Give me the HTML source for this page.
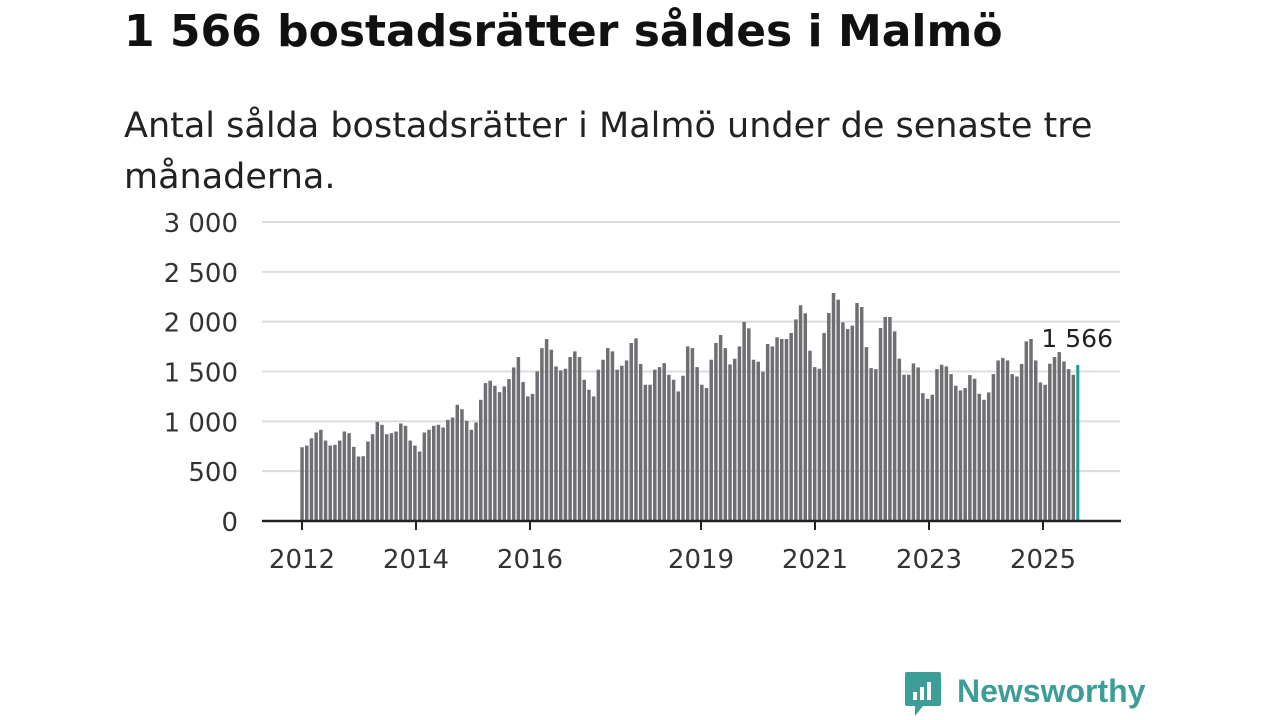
<!DOCTYPE html>
<html><head><meta charset="utf-8"><style>
body{margin:0;width:1280px;height:720px;background:#fff;font-family:"DejaVu Sans","Liberation Sans",sans-serif;overflow:hidden;position:relative}
h1{position:absolute;left:124px;top:6px;margin:0;font-size:44px;font-weight:bold;color:#111;white-space:nowrap}
.sub{position:absolute;left:124px;top:101px;margin:0;font-size:35px;line-height:51px;color:#222;width:1050px}
svg{position:absolute;left:0;top:0}
</style></head><body>
<h1>1 566 bostadsrätter såldes i Malmö</h1>
<p class="sub">Antal sålda bostadsrätter i Malmö under de senaste tre månaderna.</p>
<svg id="chart" width="1280" height="720"></svg>
<script>
const values=[740,757,830,888,915,807,757,764,807,898,881,744,647,650,797,871,995,965,871,881,898,978,955,807,757,697,888,915,955,965,938,1015,1038,1166,1122,1005,915,988,1216,1384,1407,1357,1293,1350,1424,1541,1645,1394,1250,1276,1501,1735,1826,1719,1551,1511,
1528,1645,1702,1645,1417,1317,1250,1518,1618,1735,1702,1518,1558,1611,1786,1832,1575,1367,1367,1518,1544,1584,1467,1417,1300,1457,1752,1735,1544,1367,1334,1618,1786,1866,1735,1571,1628,1752,1997,1933,1618,1598,1498,1776,1752,1843,1826,1826,1886,2023,2164,2084,1708,1544,1528,1886,2087,
2288,2221,1993,1926,1960,2187,2147,1745,1534,1524,1936,2047,2047,1903,1628,1467,1467,1581,1541,1283,1226,1266,1524,1568,1551,1474,1357,1310,1334,1464,1427,1276,1216,1290,1474,1611,1635,1611,1474,1450,1575,1802,1826,1611,1390,1367,1578,1645,1695,1601,1524,1467,1566];
const yTicks=[0,500,1000,1500,2000,2500,3000];
const yTickLabels=["0","500","1 000","1 500","2 000","2 500","3 000"];
const xTickYears=[2012,2014,2016,2019,2021,2023,2025];
const lastLabel="1 566";
const svg=document.getElementById('chart');const NS='http://www.w3.org/2000/svg';
const FONT='DejaVu Sans, Liberation Sans, sans-serif';
const y0=521,yTop=222,yMax=3000;
const y=v=>y0-(v/yMax)*(y0-yTop);
const n=values.length,step=(1078-302)/(n-1);
const x=i=>302+i*step;
const xYear=yr=>302+(yr-2012)*57;
function mk(t,a){const e=document.createElementNS(NS,t);for(const k in a)e.setAttribute(k,a[k]);svg.appendChild(e);return e;}
yTicks.forEach((t,i)=>{
 if(t>0){const g=mk('line',{x1:262,x2:1120,y1:y(t),y2:y(t),stroke:'#dcdcdc','stroke-width':2});
 
 }
 const l=mk('text',{x:238,y:y(t)+10,'text-anchor':'end','font-size':26,fill:'#333','font-family':FONT});
 l.textContent=yTickLabels[i];
 
 
});
values.forEach((v,i)=>{
 const last=i===n-1;
 const r=mk('rect',{x:x(i)-1.7,y:y(v),width:last?3:3.5,height:y0-y(v),fill:last?'#1a9e96':'#6f6e73'});
 
 
});
const ax=mk('line',{x1:262,x2:1121,y1:y0,y2:y0,stroke:'#222','stroke-width':2.5});


xTickYears.forEach(yr=>{
 const tk=mk('line',{x1:xYear(yr),x2:xYear(yr),y1:y0,y2:y0+9,stroke:'#222','stroke-width':2});
 
 
 const l=mk('text',{x:xYear(yr),y:568,'text-anchor':'middle','font-size':26,fill:'#333','font-family':FONT});
 l.textContent=yr;
 
 
});
const vl=mk('text',{x:1113,y:y(values[n-1])-18,'text-anchor':'end','font-size':25,fill:'#222','font-family':FONT});
vl.textContent=lastLabel;


</script>
<div style="position:absolute;left:903px;top:670px;display:flex;align-items:center">
 <svg width="40" height="48" viewBox="0 0 40 48" style="position:static">
  <path d="M4 2h32a2 2 0 0 1 2 2v30a2 2 0 0 1-2 2H20l-8 10v-10H4a2 2 0 0 1-2-2V4a2 2 0 0 1 2-2z" fill="#3d9e97"/>
  <rect x="10" y="22" width="4" height="8" fill="#fff"/><rect x="17" y="17" width="4" height="13" fill="#fff"/><rect x="24" y="12" width="4" height="18" fill="#fff"/>
 </svg>
 <span style="font-size:32px;font-weight:bold;color:#3d9e97;margin-left:14px;margin-top:-6px;font-family:'Liberation Sans',sans-serif">Newsworthy</span>
</div>
</body></html>
